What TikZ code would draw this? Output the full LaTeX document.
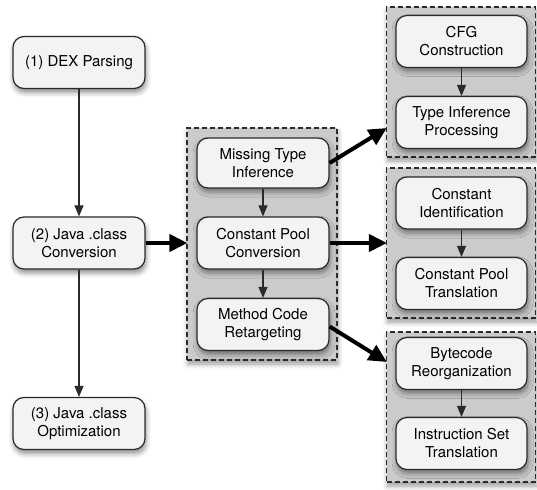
\documentclass[tikz,border=0pt]{standalone}
\usepackage{fontspec}
\setmainfont{TeX Gyre Heros}
\usetikzlibrary{arrows.meta,shadows.blur}
\definecolor{boxfill}{HTML}{F3F3F3}
\definecolor{grpfill}{HTML}{CBCBCB}
\definecolor{edge}{HTML}{2A2A2A}
\tikzset{
  stepbox/.style={draw=edge, line width=1.2pt, fill=boxfill, rounded corners=11pt,
    minimum width=132pt, minimum height=52pt, align=center, inner sep=2pt,
    font=\fontsize{15}{18}\selectfont,
    blur shadow={shadow xshift=1pt, shadow yshift=-4pt, shadow blur radius=5pt, shadow opacity=45}},
  grpbox/.style={draw=edge, line width=1.1pt, fill=grpfill, dash pattern=on 5pt off 3pt,
    minimum width=149pt, inner sep=0pt,
    blur shadow={shadow xshift=1pt, shadow yshift=-4pt, shadow blur radius=5pt, shadow opacity=40}},
  thin/.style={draw=edge, line width=1.1pt, -{Triangle[length=11pt,width=9pt]}},
  thick/.style={draw=black, line width=4pt, -{Triangle[length=18pt,width=17pt]}, shorten >=-1pt}
}
\begin{document}
\begin{tikzpicture}[x=1pt,y=-1pt]
\useasboundingbox (0,0) rectangle (537,489);
% groups
\node[grpbox, minimum width=150pt, minimum height=232pt] (g0) at (262,244) {};
\node[grpbox, minimum height=150pt] (g1) at (461,82) {};
\node[grpbox, minimum height=150pt] (g2) at (461,243) {};
\node[grpbox, minimum height=150pt] (g3) at (461,407) {};
% left column
\node[stepbox] (dex) at (79,62.5) {(1) DEX Parsing};
\node[stepbox] (conv) at (79,243) {(2) Java .class\\Conversion};
\node[stepbox] (opt) at (79,423.5) {(3) Java .class\\Optimization};
% middle column
\node[stepbox, minimum height=50pt] (mt) at (263,163) {Missing Type\\Inference};
\node[stepbox] (cpc) at (263,243) {Constant Pool\\Conversion};
\node[stepbox] (mcr) at (263,324.5) {Method Code\\Retargeting};
% right column
\node[stepbox, minimum width=131pt] (cfg) at (461.5,41.5) {CFG\\Construction};
\node[stepbox, minimum width=131pt] (tip) at (461.5,122.5) {Type Inference\\Processing};
\node[stepbox, minimum width=131pt] (ci) at (461.5,203) {Constant\\Identification};
\node[stepbox, minimum width=131pt] (cpt) at (461.5,283.5) {Constant Pool\\Translation};
\node[stepbox, minimum width=131pt] (br) at (461.5,363.5) {Bytecode\\Reorganization};
\node[stepbox, minimum width=131pt] (ist) at (461.5,443.5) {Instruction Set\\Translation};
% thin arrows
\draw[thin] (dex) -- (conv);
\draw[thin] (conv) -- (opt);
\draw[thin] (mt) -- (cpc);
\draw[thin] (cpc) -- (mcr);
\draw[thin] (cfg) -- (tip);
\draw[thin] (ci) -- (cpt);
\draw[thin] (br) -- (ist);
% thick arrows
\draw[thick] (conv.east) -- (g0.west |- conv.east);
\draw[thick] (mt.east) -- ([yshift=29pt]g1.south west);
\draw[thick] (cpc.east) -- (g2.west |- cpc.east);
\draw[thick] ([yshift=-2pt]mcr.east) -- ([yshift=-30pt]g3.north west);
\end{tikzpicture}
\end{document}
